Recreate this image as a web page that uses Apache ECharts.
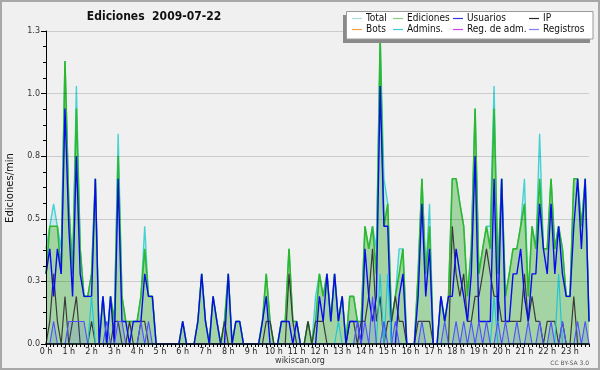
<!DOCTYPE html>
<html><head><meta charset="utf-8">
<script src="https://cdn.jsdelivr.net/npm/echarts@6/dist/echarts.min.js"></script>
<style>html,body{margin:0;padding:0;background:#f0f0f0}#c{width:600px;height:370px}</style>
</head><body><div id="c"></div>
<script>
const hourLabels = ['0 h','1 h','2 h','3 h','4 h','5 h','6 h','7 h','8 h','9 h','10 h','11 h',
  '12 h','13 h','14 h','15 h','16 h','17 h','18 h','19 h','20 h','21 h','22 h','23 h'];

// edits per minute, one value per 10-minute slot (144 slots)
const total = [.38,.47,.56,.47,.38,1.13,.56,.28,1.03,.38,
 .19,.19,.28,.66,0,.19,0,.19,.09,.84,
 .19,.09,.09,.09,.09,.19,.47,.19,.19,0,
 0,0,0,0,0,0,.09,0,0,0,
 .09,.28,.09,0,.19,.09,0,.09,.28,0,
 .09,.09,0,0,0,0,0,.09,.28,.09,
 0,0,.09,.09,.38,.09,.09,0,0,.09,
 0,.19,.28,.19,.28,.09,.28,.09,.19,0,
 .19,.19,.09,.09,.47,.38,.47,.38,1.22,.66,
 .56,.09,.19,.38,.38,0,0,0,.28,.66,
 .28,.56,0,0,.19,.09,.19,.66,.66,.56,
 .47,.19,.38,.94,.28,.38,.47,.47,1.03,.28,
 .66,.19,.28,.38,.38,.47,.66,.19,.47,.38,
 .84,.38,.38,.66,.38,.47,.38,.19,.19,.66,
 .66,.47,.66,.09];
const ediciones = [.28,.47,.47,.47,.28,1.13,.56,.28,.94,.38,
 .19,.19,.28,.66,0,.19,0,.19,.09,.75,
 .19,.09,.09,.09,.09,.19,.38,.19,.19,0,
 0,0,0,0,0,0,.09,0,0,0,
 .09,.28,.09,0,.19,.09,0,.09,.28,0,
 .09,.09,0,0,0,0,0,.09,.28,.09,
 0,0,.09,.09,.38,.09,.09,0,0,.09,
 0,.09,.28,.19,.28,.09,.28,.09,.19,0,
 .19,.19,.09,.09,.47,.38,.47,.28,1.22,.47,
 .56,.09,.19,.28,.38,0,0,0,.28,.66,
 .28,.47,0,0,.19,.09,.19,.66,.66,.56,
 .47,.19,.38,.94,.28,.38,.47,.38,.94,.28,
 .66,.19,.28,.38,.38,.47,.56,.19,.47,.38,
 .66,.38,.38,.66,.38,.47,.38,.19,.19,.66,
 .66,.47,.66,.09];
const usuarios = [.28,.38,.19,.38,.28,.94,.47,.19,.75,.28,
 .19,.19,.19,.66,0,.19,0,.19,0,.66,
 .09,.09,0,.09,.09,.09,.28,.19,.19,0,
 0,0,0,0,0,0,.09,0,0,0,
 .09,.28,.09,0,.19,.09,0,0,.28,0,
 .09,.09,0,0,0,0,0,.09,.19,0,
 0,0,.09,.09,.09,0,.09,0,0,0,
 0,0,.19,.09,.28,.09,.28,.09,.19,0,
 .09,.09,.09,0,.38,.19,.09,.19,1.03,.47,
 .47,0,0,.19,.28,0,0,0,.19,.56,
 .19,.38,0,0,.19,.09,.19,.19,.38,.28,
 .19,.09,.28,.75,.09,.09,.09,.09,.66,.09,
 .66,.09,.09,.28,.28,.38,.19,.09,.28,.28,
 .56,.38,.28,.56,.28,.47,.28,.19,.19,.47,
 .66,.38,.66,.09];
const ip = [0,.09,.28,.09,0,.19,0,.09,.19,0,
 0,0,.09,0,0,0,0,0,.09,.09,
 0,0,.09,0,0,.09,.09,0,0,0,
 0,0,0,0,0,0,0,0,0,0,
 0,0,0,0,0,0,0,.09,0,0,
 0,0,0,0,0,0,0,0,.09,.09,
 0,0,0,0,.28,.09,0,0,0,.09,
 0,.09,.09,.09,0,0,0,0,0,0,
 .09,.09,0,.09,.09,.19,.38,.09,.19,0,
 .09,.09,.19,.09,.09,0,0,0,.09,.09,
 .09,.09,0,0,0,0,0,.47,.28,.19,
 .28,.09,.09,.19,.19,.28,.38,.28,.19,.19,
 .09,.09,.09,.09,.09,.09,.28,.09,.19,.09,
 .09,0,.09,.09,.09,0,.09,0,0,.19,
 0,0,0,0];
const admins = [0,0,0,0,0,0,0,0,0,0,
 0,0,.19,0,0,0,0,0,0,0,
 0,0,0,0,0,0,0,0,0,0,
 0,0,0,0,0,0,0,0,0,0,
 0,0,0,0,0,0,0,0,0,0,
 0,0,0,0,0,0,0,0,0,0,
 0,0,0,0,0,0,0,0,0,0,
 0,0,0,0,0,0,0,.09,0,0,
 0,0,0,0,0,0,0,0,.28,0,
 .28,0,0,0,0,0,0,0,0,0,
 0,0,0,0,0,0,0,0,0,0,
 0,0,0,0,0,0,0,0,.19,0,
 0,0,0,0,0,0,0,0,0,0,
 0,0,0,0,0,.28,0,0,0,0,
 0,0,0,0];
const registros = [0,0,.09,0,0,0,.09,.09,.09,.09,
 .09,0,0,0,0,0,.09,0,0,.09,
 .09,0,0,0,0,.09,0,.09,0,0,
 0,0,0,0,0,0,0,0,0,0,
 0,0,0,0,0,0,0,0,0,0,
 0,0,0,0,0,0,0,0,0,0,
 0,0,0,0,0,0,0,0,0,0,
 0,0,0,0,0,0,0,0,0,0,
 0,0,.09,0,.09,0,.19,0,0,.09,
 0,0,.09,0,0,0,0,0,0,.09,
 0,0,0,0,0,.09,0,0,.09,0,
 .09,0,.09,0,.09,0,.09,0,0,.09,
 0,.09,0,0,.09,0,0,.09,0,0,
 .09,0,0,.09,0,0,.09,0,0,0,
 .09,0,.09,0];

const slots = [];
for (let h = 0; h < 24; h++) for (let m = 0; m < 60; m += 10)
  slots.push(String(h).padStart(2,'0') + ':' + String(m).padStart(2,'0'));

const legendCols = [
  [{name:'Total', color:'#a6dede'}, {name:'Bots', color:'#f5a040'}],
  [{name:'Ediciones', color:'#86d086'}, {name:'Admins.', color:'#40c8e0'}],
  [{name:'Usuarios', color:'#3535dd'}, {name:'Reg. de adm.', color:'#cc44ee'}],
  [{name:'IP', color:'#2a2a2a'}, {name:'Registros', color:'#7f7fee'}]
];

const FONT = '"DejaVu Sans"';
const CFONT = '"DejaVu Sans Condensed", "DejaVu Sans"';

const chart = echarts.init(document.getElementById('c'), null, {renderer:'canvas'});

const graphics = [
  {type:'rect', z:100, shape:{x:1,y:1,width:598,height:368}, style:{fill:null, stroke:'#a8a8a8', lineWidth:2}},
  {type:'text', z:100, x:154, y:17, style:{text:'Ediciones  2009-07-22', fontSize:12, fontWeight:'bold', fontFamily:CFONT, fill:'#111', textAlign:'center', textVerticalAlign:'middle'}},
  {type:'text', z:100, x:10, y:188, rotation:Math.PI/2, style:{text:'Ediciones/min', fontSize:10, fontFamily:FONT, fill:'#111', textAlign:'center', textVerticalAlign:'middle'}},
  {type:'text', z:100, x:300, y:361, style:{text:'wikiscan.org', fontSize:8, fontFamily:FONT, fill:'#333', textAlign:'center', textVerticalAlign:'middle'}},
  {type:'text', z:100, x:589, y:363, style:{text:'CC BY-SA 3.0', fontSize:6, fontFamily:FONT, fill:'#555', textAlign:'right', textVerticalAlign:'middle'}},
  {type:'rect', z:100, shape:{x:343,y:15,width:247,height:28}, style:{fill:'#8a8a8a'}},
  {type:'rect', z:101, shape:{x:346.5,y:11.5,width:246.5,height:27.5}, style:{fill:'#ffffff', stroke:'#9a9a9a', lineWidth:1}}
];
const colX = [352, 393, 453, 529];
const rowY = [18.5, 29.5];
legendCols.forEach((col, ci) => col.forEach((it, ri) => {
  graphics.push({type:'line', z:102, shape:{x1:colX[ci], y1:rowY[ri], x2:colX[ci]+10, y2:rowY[ri]}, style:{stroke:it.color, lineWidth:1.2}});
  graphics.push({type:'text', z:102, x:colX[ci]+14, y:rowY[ri], style:{text:it.name, fontSize:10, fontFamily:CFONT, fill:'#111', textVerticalAlign:'middle'}});
}));

function lineSeries(name, data, color, width, z, area) {
  const s = {name, type:'line', data, z, symbol:'none', showSymbol:false, animation:false,
    lineStyle:{color, width}, itemStyle:{color}, emphasis:{disabled:true}};
  if (area) s.areaStyle = area;
  return s;
}

chart.setOption({
  backgroundColor:'#f0f0f0',
  animation:false,
  grid:{left:46, top:31, width:543, height:313},
  xAxis:{type:'category', data:slots, boundaryGap:false, z:10,
    axisLine:{lineStyle:{color:'#000', width:1.5}},
    axisTick:{show:true, interval:0, length:3, lineStyle:{color:'#000'}},
    axisLabel:{interval:5, formatter:(v, idx) => hourLabels[idx/6], fontSize:8, fontFamily:FONT, color:'#222', margin:4},
    splitLine:{show:false}},
  yAxis:{type:'value', min:0, max:1.25, interval:0.25, z:10,
    axisLine:{show:true, lineStyle:{color:'#000', width:1}},
    axisTick:{show:true, length:5, lineStyle:{color:'#000'}},
    minorTick:{show:true, splitNumber:4, length:3, lineStyle:{color:'#000'}},
    axisLabel:{formatter:v => v.toFixed(1), fontSize:8, fontFamily:FONT, color:'#333', margin:6},
    splitLine:{lineStyle:{color:'rgba(0,0,0,0.15)'}}},
  series:[
    lineSeries('Total', total, '#45d2d2', 1.4, 2, {color:'#cde8ec', opacity:1}),
    lineSeries('Ediciones', ediciones, '#2db82d', 1.6, 3, {color:'#a4d4a4', opacity:1}),
    lineSeries('IP', ip, '#3a3a3a', 1.2, 4),
    lineSeries('Usuarios', usuarios, '#0a0aee', 1.4, 5),
    lineSeries('Admins.', admins, '#22c6d6', 1.2, 6),
    lineSeries('Registros', registros, '#5050ff', 1.1, 7, {color:'rgba(60,60,255,0.18)'}),
    lineSeries('Bots', [], '#f5a040', 1, 1),
    lineSeries('Reg. de adm.', [], '#cc44ee', 1, 1)
  ],
  graphic: graphics
});
</script></body></html>
